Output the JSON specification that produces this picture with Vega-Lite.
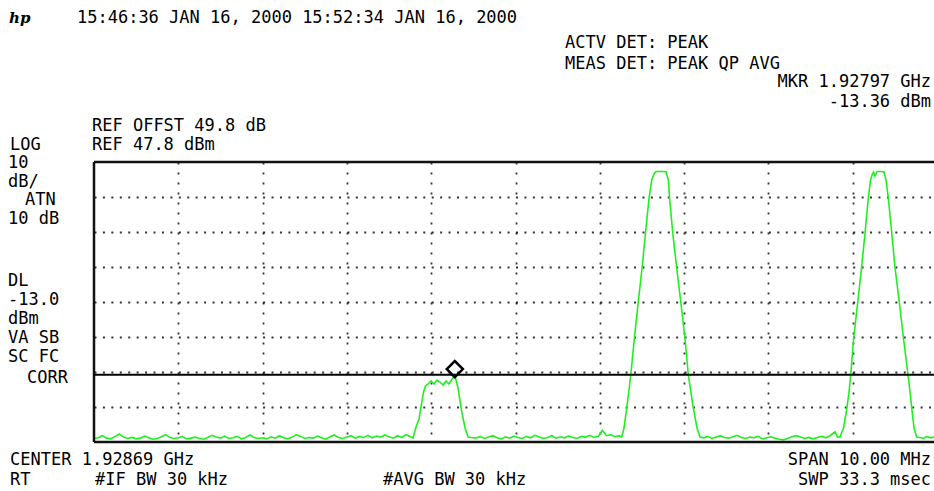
{
  "$schema": "https://vega.github.io/schema/vega-lite/v6.json",
  "width": 840,
  "height": 280,
  "autosize": {"type": "none"},
  "padding": {"left": 94, "top": 162, "right": 0, "bottom": 49},
  "background": "#ffffff",
  "config": {
    "view": {"stroke": null},
    "text": {"font": "DejaVu Sans Mono", "fontSize": 17, "color": "#000000", "baseline": "alphabetic", "align": "left"}
  },
  "data": {"values": [
    {"freq_MHz": 1923.69, "level_dBm": -31.2}, {"freq_MHz": 1923.74, "level_dBm": -31.0}, {"freq_MHz": 1923.79, "level_dBm": -30.4},
    {"freq_MHz": 1923.84, "level_dBm": -31.1}, {"freq_MHz": 1923.89, "level_dBm": -31.3}, {"freq_MHz": 1923.94, "level_dBm": -30.6},
    {"freq_MHz": 1923.99, "level_dBm": -29.9}, {"freq_MHz": 1924.04, "level_dBm": -30.8}, {"freq_MHz": 1924.09, "level_dBm": -31.2},
    {"freq_MHz": 1924.14, "level_dBm": -30.9}, {"freq_MHz": 1924.19, "level_dBm": -31.3}, {"freq_MHz": 1924.24, "level_dBm": -31.1},
    {"freq_MHz": 1924.29, "level_dBm": -30.5}, {"freq_MHz": 1924.34, "level_dBm": -31.0}, {"freq_MHz": 1924.39, "level_dBm": -31.4},
    {"freq_MHz": 1924.44, "level_dBm": -31.2}, {"freq_MHz": 1924.49, "level_dBm": -30.7}, {"freq_MHz": 1924.54, "level_dBm": -30.1},
    {"freq_MHz": 1924.59, "level_dBm": -30.9}, {"freq_MHz": 1924.64, "level_dBm": -31.2}, {"freq_MHz": 1924.69, "level_dBm": -31.0},
    {"freq_MHz": 1924.74, "level_dBm": -30.6}, {"freq_MHz": 1924.79, "level_dBm": -31.3}, {"freq_MHz": 1924.84, "level_dBm": -31.1},
    {"freq_MHz": 1924.89, "level_dBm": -30.8}, {"freq_MHz": 1924.94, "level_dBm": -31.2}, {"freq_MHz": 1924.99, "level_dBm": -31.4},
    {"freq_MHz": 1925.04, "level_dBm": -30.9}, {"freq_MHz": 1925.09, "level_dBm": -30.3}, {"freq_MHz": 1925.14, "level_dBm": -30.8},
    {"freq_MHz": 1925.19, "level_dBm": -31.1}, {"freq_MHz": 1925.24, "level_dBm": -30.5}, {"freq_MHz": 1925.29, "level_dBm": -31.2},
    {"freq_MHz": 1925.34, "level_dBm": -31.0}, {"freq_MHz": 1925.39, "level_dBm": -30.6}, {"freq_MHz": 1925.44, "level_dBm": -31.3},
    {"freq_MHz": 1925.49, "level_dBm": -30.9}, {"freq_MHz": 1925.54, "level_dBm": -30.2}, {"freq_MHz": 1925.59, "level_dBm": -30.9},
    {"freq_MHz": 1925.64, "level_dBm": -31.2}, {"freq_MHz": 1925.69, "level_dBm": -31.0}, {"freq_MHz": 1925.74, "level_dBm": -31.3},
    {"freq_MHz": 1925.79, "level_dBm": -30.7}, {"freq_MHz": 1925.84, "level_dBm": -31.1}, {"freq_MHz": 1925.89, "level_dBm": -30.4},
    {"freq_MHz": 1925.94, "level_dBm": -31.0}, {"freq_MHz": 1925.99, "level_dBm": -31.3}, {"freq_MHz": 1926.04, "level_dBm": -30.8},
    {"freq_MHz": 1926.09, "level_dBm": -30.1}, {"freq_MHz": 1926.14, "level_dBm": -30.6}, {"freq_MHz": 1926.19, "level_dBm": -31.2},
    {"freq_MHz": 1926.24, "level_dBm": -30.9}, {"freq_MHz": 1926.29, "level_dBm": -31.1}, {"freq_MHz": 1926.34, "level_dBm": -30.5},
    {"freq_MHz": 1926.39, "level_dBm": -31.0}, {"freq_MHz": 1926.44, "level_dBm": -31.4}, {"freq_MHz": 1926.49, "level_dBm": -30.7},
    {"freq_MHz": 1926.54, "level_dBm": -30.2}, {"freq_MHz": 1926.59, "level_dBm": -30.9}, {"freq_MHz": 1926.64, "level_dBm": -31.2},
    {"freq_MHz": 1926.69, "level_dBm": -30.8}, {"freq_MHz": 1926.74, "level_dBm": -30.4}, {"freq_MHz": 1926.79, "level_dBm": -31.1},
    {"freq_MHz": 1926.84, "level_dBm": -30.6}, {"freq_MHz": 1926.89, "level_dBm": -30.9}, {"freq_MHz": 1926.94, "level_dBm": -30.3},
    {"freq_MHz": 1926.99, "level_dBm": -31.0}, {"freq_MHz": 1927.04, "level_dBm": -30.5}, {"freq_MHz": 1927.09, "level_dBm": -30.8},
    {"freq_MHz": 1927.14, "level_dBm": -30.2}, {"freq_MHz": 1927.19, "level_dBm": -30.7}, {"freq_MHz": 1927.24, "level_dBm": -31.1},
    {"freq_MHz": 1927.29, "level_dBm": -30.4}, {"freq_MHz": 1927.34, "level_dBm": -30.9}, {"freq_MHz": 1927.39, "level_dBm": -30.1},
    {"freq_MHz": 1927.44, "level_dBm": -30.6}, {"freq_MHz": 1927.474, "level_dBm": -31.06},
    {"freq_MHz": 1927.510, "level_dBm": -27.91}, {"freq_MHz": 1927.545, "level_dBm": -25.63}, {"freq_MHz": 1927.575, "level_dBm": -21.34},
    {"freq_MHz": 1927.599, "level_dBm": -17.91}, {"freq_MHz": 1927.622, "level_dBm": -16.2}, {"freq_MHz": 1927.652, "level_dBm": -15.63},
    {"freq_MHz": 1927.688, "level_dBm": -14.77}, {"freq_MHz": 1927.723, "level_dBm": -15.63}, {"freq_MHz": 1927.759, "level_dBm": -14.49},
    {"freq_MHz": 1927.794, "level_dBm": -15.06}, {"freq_MHz": 1927.830, "level_dBm": -15.91}, {"freq_MHz": 1927.866, "level_dBm": -14.77},
    {"freq_MHz": 1927.901, "level_dBm": -15.63}, {"freq_MHz": 1927.937, "level_dBm": -14.2}, {"freq_MHz": 1927.972, "level_dBm": -13.36},
    {"freq_MHz": 1928.008, "level_dBm": -16.77}, {"freq_MHz": 1928.032, "level_dBm": -20.49}, {"freq_MHz": 1928.055, "level_dBm": -23.91},
    {"freq_MHz": 1928.091, "level_dBm": -28.2}, {"freq_MHz": 1928.127, "level_dBm": -30.77},
    {"freq_MHz": 1928.17, "level_dBm": -30.9}, {"freq_MHz": 1928.22, "level_dBm": -31.1}, {"freq_MHz": 1928.27, "level_dBm": -30.6},
    {"freq_MHz": 1928.32, "level_dBm": -31.2}, {"freq_MHz": 1928.37, "level_dBm": -30.8}, {"freq_MHz": 1928.42, "level_dBm": -30.4},
    {"freq_MHz": 1928.47, "level_dBm": -31.0}, {"freq_MHz": 1928.52, "level_dBm": -31.3}, {"freq_MHz": 1928.57, "level_dBm": -30.7},
    {"freq_MHz": 1928.62, "level_dBm": -31.1}, {"freq_MHz": 1928.67, "level_dBm": -30.5}, {"freq_MHz": 1928.72, "level_dBm": -30.9},
    {"freq_MHz": 1928.77, "level_dBm": -31.2}, {"freq_MHz": 1928.82, "level_dBm": -30.6}, {"freq_MHz": 1928.87, "level_dBm": -31.0},
    {"freq_MHz": 1928.92, "level_dBm": -30.3}, {"freq_MHz": 1928.97, "level_dBm": -30.8}, {"freq_MHz": 1929.02, "level_dBm": -31.2},
    {"freq_MHz": 1929.07, "level_dBm": -30.9}, {"freq_MHz": 1929.12, "level_dBm": -30.4}, {"freq_MHz": 1929.17, "level_dBm": -31.1},
    {"freq_MHz": 1929.22, "level_dBm": -30.7}, {"freq_MHz": 1929.27, "level_dBm": -31.0}, {"freq_MHz": 1929.32, "level_dBm": -30.5},
    {"freq_MHz": 1929.37, "level_dBm": -30.9}, {"freq_MHz": 1929.42, "level_dBm": -31.2}, {"freq_MHz": 1929.47, "level_dBm": -30.6},
    {"freq_MHz": 1929.52, "level_dBm": -30.8}, {"freq_MHz": 1929.57, "level_dBm": -30.3}, {"freq_MHz": 1929.62, "level_dBm": -30.9},
    {"freq_MHz": 1929.67, "level_dBm": -30.6}, {"freq_MHz": 1929.72, "level_dBm": -28.9}, {"freq_MHz": 1929.77, "level_dBm": -30.4},
    {"freq_MHz": 1929.82, "level_dBm": -30.1}, {"freq_MHz": 1929.87, "level_dBm": -30.7}, {"freq_MHz": 1929.92, "level_dBm": -30.4},
    {"freq_MHz": 1929.950, "level_dBm": -30.77}, {"freq_MHz": 1929.977, "level_dBm": -28.2}, {"freq_MHz": 1930.009, "level_dBm": -22.49},
    {"freq_MHz": 1930.033, "level_dBm": -17.91}, {"freq_MHz": 1930.057, "level_dBm": -13.06}, {"freq_MHz": 1930.099, "level_dBm": -2.77},
    {"freq_MHz": 1930.143, "level_dBm": 7.23}, {"freq_MHz": 1930.191, "level_dBm": 17.51}, {"freq_MHz": 1930.232, "level_dBm": 27.51},
    {"freq_MHz": 1930.274, "level_dBm": 37.51}, {"freq_MHz": 1930.306, "level_dBm": 42.66}, {"freq_MHz": 1930.333, "level_dBm": 44.37},
    {"freq_MHz": 1930.357, "level_dBm": 45.09}, {"freq_MHz": 1930.404, "level_dBm": 45.09}, {"freq_MHz": 1930.452, "level_dBm": 45.09},
    {"freq_MHz": 1930.475, "level_dBm": 44.94}, {"freq_MHz": 1930.503, "level_dBm": 42.66}, {"freq_MHz": 1930.517, "level_dBm": 37.51},
    {"freq_MHz": 1930.555, "level_dBm": 27.51}, {"freq_MHz": 1930.602, "level_dBm": 17.51}, {"freq_MHz": 1930.653, "level_dBm": 7.23},
    {"freq_MHz": 1930.701, "level_dBm": -2.77}, {"freq_MHz": 1930.740, "level_dBm": -13.06}, {"freq_MHz": 1930.799, "level_dBm": -22.49},
    {"freq_MHz": 1930.843, "level_dBm": -28.2}, {"freq_MHz": 1930.879, "level_dBm": -30.77},
    {"freq_MHz": 1930.92, "level_dBm": -31.0}, {"freq_MHz": 1930.97, "level_dBm": -30.6}, {"freq_MHz": 1931.02, "level_dBm": -31.2},
    {"freq_MHz": 1931.07, "level_dBm": -30.8}, {"freq_MHz": 1931.12, "level_dBm": -30.4}, {"freq_MHz": 1931.17, "level_dBm": -30.9},
    {"freq_MHz": 1931.22, "level_dBm": -31.1}, {"freq_MHz": 1931.27, "level_dBm": -30.7}, {"freq_MHz": 1931.32, "level_dBm": -30.3},
    {"freq_MHz": 1931.37, "level_dBm": -30.9}, {"freq_MHz": 1931.42, "level_dBm": -31.2}, {"freq_MHz": 1931.47, "level_dBm": -30.8},
    {"freq_MHz": 1931.52, "level_dBm": -31.0}, {"freq_MHz": 1931.57, "level_dBm": -30.6}, {"freq_MHz": 1931.62, "level_dBm": -31.3},
    {"freq_MHz": 1931.67, "level_dBm": -31.0}, {"freq_MHz": 1931.72, "level_dBm": -30.7}, {"freq_MHz": 1931.77, "level_dBm": -31.1},
    {"freq_MHz": 1931.82, "level_dBm": -31.4}, {"freq_MHz": 1931.87, "level_dBm": -31.6}, {"freq_MHz": 1931.92, "level_dBm": -31.1},
    {"freq_MHz": 1931.97, "level_dBm": -30.7}, {"freq_MHz": 1932.02, "level_dBm": -30.4}, {"freq_MHz": 1932.07, "level_dBm": -30.8},
    {"freq_MHz": 1932.12, "level_dBm": -31.2}, {"freq_MHz": 1932.17, "level_dBm": -30.9}, {"freq_MHz": 1932.22, "level_dBm": -31.3},
    {"freq_MHz": 1932.27, "level_dBm": -30.9}, {"freq_MHz": 1932.32, "level_dBm": -30.6}, {"freq_MHz": 1932.37, "level_dBm": -31.0},
    {"freq_MHz": 1932.42, "level_dBm": -30.4}, {"freq_MHz": 1932.48, "level_dBm": -29.3}, {"freq_MHz": 1932.51, "level_dBm": -30.8},
    {"freq_MHz": 1932.539, "level_dBm": -30.77}, {"freq_MHz": 1932.581, "level_dBm": -28.2}, {"freq_MHz": 1932.617, "level_dBm": -23.06},
    {"freq_MHz": 1932.646, "level_dBm": -17.91}, {"freq_MHz": 1932.666, "level_dBm": -13.06}, {"freq_MHz": 1932.700, "level_dBm": -2.77},
    {"freq_MHz": 1932.747, "level_dBm": 7.23}, {"freq_MHz": 1932.794, "level_dBm": 17.51}, {"freq_MHz": 1932.836, "level_dBm": 27.51},
    {"freq_MHz": 1932.875, "level_dBm": 37.51}, {"freq_MHz": 1932.901, "level_dBm": 42.66}, {"freq_MHz": 1932.919, "level_dBm": 44.09},
    {"freq_MHz": 1932.937, "level_dBm": 44.94}, {"freq_MHz": 1932.954, "level_dBm": 43.8}, {"freq_MHz": 1932.978, "level_dBm": 45.09},
    {"freq_MHz": 1933.026, "level_dBm": 45.09}, {"freq_MHz": 1933.061, "level_dBm": 44.94}, {"freq_MHz": 1933.085, "level_dBm": 42.66},
    {"freq_MHz": 1933.112, "level_dBm": 37.51}, {"freq_MHz": 1933.153, "level_dBm": 27.51}, {"freq_MHz": 1933.192, "level_dBm": 17.51},
    {"freq_MHz": 1933.245, "level_dBm": 7.23}, {"freq_MHz": 1933.293, "level_dBm": -2.77}, {"freq_MHz": 1933.346, "level_dBm": -13.06},
    {"freq_MHz": 1933.370, "level_dBm": -17.91}, {"freq_MHz": 1933.390, "level_dBm": -22.49}, {"freq_MHz": 1933.417, "level_dBm": -28.2},
    {"freq_MHz": 1933.449, "level_dBm": -30.77}, {"freq_MHz": 1933.49, "level_dBm": -30.9}, {"freq_MHz": 1933.53, "level_dBm": -31.2},
    {"freq_MHz": 1933.57, "level_dBm": -30.6}, {"freq_MHz": 1933.61, "level_dBm": -31.0}, {"freq_MHz": 1933.654, "level_dBm": -30.8}
  ]},
  "layer": [
    {
      "mark": {"type": "line", "color": "#1ef01e", "strokeWidth": 1.6, "clip": true},
      "encoding": {
        "x": {"field": "freq_MHz", "type": "quantitative",
          "scale": {"domain": [1923.69, 1933.654], "nice": false, "zero": false},
          "axis": {"title": null, "labels": false, "ticks": false, "domain": false, "grid": true,
            "values": [1924.69, 1925.69, 1926.69, 1927.69, 1928.69, 1929.69, 1930.69, 1931.69, 1932.69],
            "gridColor": "#000000", "gridDash": [2, 8], "gridWidth": 1.8, "gridOpacity": 0.8}},
        "y": {"field": "level_dBm", "type": "quantitative",
          "scale": {"domain": [-32.2, 47.8], "nice": false, "zero": false},
          "axis": {"title": null, "labels": false, "ticks": false, "domain": false, "grid": true,
            "values": [37.8, 27.8, 17.8, 7.8, -2.2, -12.2, -22.2],
            "gridColor": "#000000", "gridDash": [2, 6.43], "gridWidth": 1.8, "gridOpacity": 0.8}}
      }
    },
    {"data": {"values": [{}]}, "mark": {"type": "rule", "color": "#111111", "strokeWidth": 2.5},
     "encoding": {"y": {"datum": 47.8, "type": "quantitative"}}},
    {"data": {"values": [{}]}, "mark": {"type": "rule", "color": "#111111", "strokeWidth": 2.5},
     "encoding": {"y": {"datum": -32.2, "type": "quantitative"}}},
    {"data": {"values": [{}]}, "mark": {"type": "rule", "color": "#111111", "strokeWidth": 2.5},
     "encoding": {"x": {"datum": 1923.69, "type": "quantitative"}}},
    {"data": {"values": [{}]}, "mark": {"type": "rule", "color": "#000000", "strokeWidth": 2},
     "encoding": {"y": {"datum": -13.0, "type": "quantitative"}}},
    {"data": {"values": [{}]}, "mark": {"type": "point", "shape": "diamond", "filled": false, "stroke": "#000000", "strokeWidth": 2.5, "size": 260, "opacity": 1, "yOffset": -7},
     "encoding": {"x": {"datum": 1927.97, "type": "quantitative"}, "y": {"datum": -13.36, "type": "quantitative"}}},

    {"data": {"values": [{}]}, "mark": {"type": "text", "text": "hp", "fontStyle": "italic", "fontWeight": "bold", "font": "DejaVu Serif", "fontSize": 15},
     "encoding": {"x": {"datum": 1922.682, "type": "quantitative"}, "y": {"datum": 87.51, "type": "quantitative"}}},
    {"data": {"values": [{}]}, "mark": {"type": "text", "text": "15:46:36 JAN 16, 2000 15:52:34 JAN 16, 2000"},
     "encoding": {"x": {"datum": 1923.488, "type": "quantitative"}, "y": {"datum": 87.51, "type": "quantitative"}}},
    {"data": {"values": [{}]}, "mark": {"type": "text", "text": "ACTV DET: PEAK"},
     "encoding": {"x": {"datum": 1929.277, "type": "quantitative"}, "y": {"datum": 80.51, "type": "quantitative"}}},
    {"data": {"values": [{}]}, "mark": {"type": "text", "text": "MEAS DET: PEAK QP AVG"},
     "encoding": {"x": {"datum": 1929.277, "type": "quantitative"}, "y": {"datum": 74.51, "type": "quantitative"}}},
    {"data": {"values": [{}]}, "mark": {"type": "text", "text": "MKR 1.92797 GHz", "align": "right"},
     "encoding": {"x": {"datum": 1933.619, "type": "quantitative"}, "y": {"datum": 69.09, "type": "quantitative"}}},
    {"data": {"values": [{}]}, "mark": {"type": "text", "text": "-13.36 dBm", "align": "right"},
     "encoding": {"x": {"datum": 1933.619, "type": "quantitative"}, "y": {"datum": 63.51, "type": "quantitative"}}},
    {"data": {"values": [{}]}, "mark": {"type": "text", "text": "REF OFFST 49.8 dB"},
     "encoding": {"x": {"datum": 1923.666, "type": "quantitative"}, "y": {"datum": 56.66, "type": "quantitative"}}},
    {"data": {"values": [{}]}, "mark": {"type": "text", "text": "REF 47.8 dBm"},
     "encoding": {"x": {"datum": 1923.666, "type": "quantitative"}, "y": {"datum": 51.23, "type": "quantitative"}}},
    {"data": {"values": [{}]}, "mark": {"type": "text", "text": "LOG"},
     "encoding": {"x": {"datum": 1922.694, "type": "quantitative"}, "y": {"datum": 51.23, "type": "quantitative"}}},
    {"data": {"values": [{}]}, "mark": {"type": "text", "text": "10"},
     "encoding": {"x": {"datum": 1922.67, "type": "quantitative"}, "y": {"datum": 46.09, "type": "quantitative"}}},
    {"data": {"values": [{}]}, "mark": {"type": "text", "text": "dB/"},
     "encoding": {"x": {"datum": 1922.67, "type": "quantitative"}, "y": {"datum": 40.66, "type": "quantitative"}}},
    {"data": {"values": [{}]}, "mark": {"type": "text", "text": "ATN"},
     "encoding": {"x": {"datum": 1922.872, "type": "quantitative"}, "y": {"datum": 35.51, "type": "quantitative"}}},
    {"data": {"values": [{}]}, "mark": {"type": "text", "text": "10 dB"},
     "encoding": {"x": {"datum": 1922.67, "type": "quantitative"}, "y": {"datum": 30.09, "type": "quantitative"}}},
    {"data": {"values": [{}]}, "mark": {"type": "text", "text": "DL"},
     "encoding": {"x": {"datum": 1922.67, "type": "quantitative"}, "y": {"datum": 12.37, "type": "quantitative"}}},
    {"data": {"values": [{}]}, "mark": {"type": "text", "text": "-13.0"},
     "encoding": {"x": {"datum": 1922.67, "type": "quantitative"}, "y": {"datum": 6.94, "type": "quantitative"}}},
    {"data": {"values": [{}]}, "mark": {"type": "text", "text": "dBm"},
     "encoding": {"x": {"datum": 1922.67, "type": "quantitative"}, "y": {"datum": 1.51, "type": "quantitative"}}},
    {"data": {"values": [{}]}, "mark": {"type": "text", "text": "VA SB"},
     "encoding": {"x": {"datum": 1922.67, "type": "quantitative"}, "y": {"datum": -3.91, "type": "quantitative"}}},
    {"data": {"values": [{}]}, "mark": {"type": "text", "text": "SC FC"},
     "encoding": {"x": {"datum": 1922.67, "type": "quantitative"}, "y": {"datum": -9.34, "type": "quantitative"}}},
    {"data": {"values": [{}]}, "mark": {"type": "text", "text": "CORR"},
     "encoding": {"x": {"datum": 1922.895, "type": "quantitative"}, "y": {"datum": -15.34, "type": "quantitative"}}},
    {"data": {"values": [{}]}, "mark": {"type": "text", "text": "CENTER 1.92869 GHz"},
     "encoding": {"x": {"datum": 1922.694, "type": "quantitative"}, "y": {"datum": -38.77, "type": "quantitative"}}},
    {"data": {"values": [{}]}, "mark": {"type": "text", "text": "SPAN 10.00 MHz", "align": "right"},
     "encoding": {"x": {"datum": 1933.619, "type": "quantitative"}, "y": {"datum": -38.77, "type": "quantitative"}}},
    {"data": {"values": [{}]}, "mark": {"type": "text", "text": "RT"},
     "encoding": {"x": {"datum": 1922.694, "type": "quantitative"}, "y": {"datum": -44.49, "type": "quantitative"}}},
    {"data": {"values": [{}]}, "mark": {"type": "text", "text": "#IF BW 30 kHz"},
     "encoding": {"x": {"datum": 1923.702, "type": "quantitative"}, "y": {"datum": -44.49, "type": "quantitative"}}},
    {"data": {"values": [{}]}, "mark": {"type": "text", "text": "#AVG BW 30 kHz"},
     "encoding": {"x": {"datum": 1927.118, "type": "quantitative"}, "y": {"datum": -44.49, "type": "quantitative"}}},
    {"data": {"values": [{}]}, "mark": {"type": "text", "text": "SWP 33.3 msec", "align": "right"},
     "encoding": {"x": {"datum": 1933.619, "type": "quantitative"}, "y": {"datum": -44.49, "type": "quantitative"}}}
  ]
}
